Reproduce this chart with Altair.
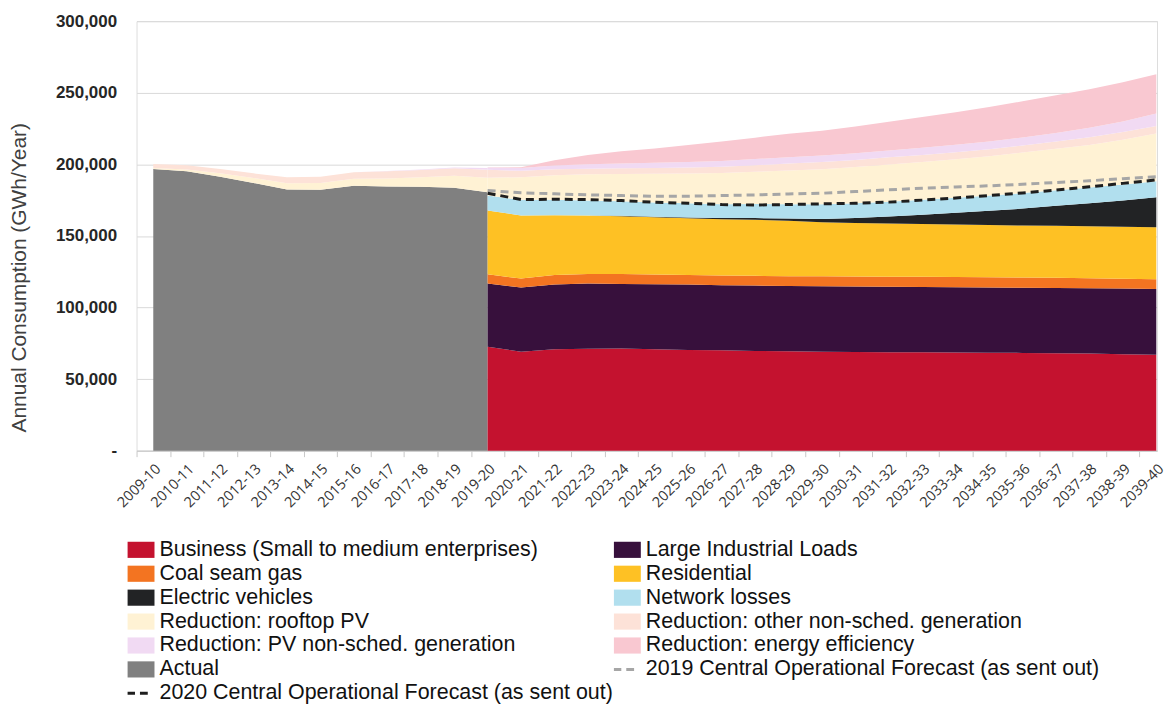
import altair as alt
import pandas as pd

# ---------------- data ----------------
years = ["2009-10", "2010-11", "2011-12", "2012-13", "2013-14", "2014-15",
         "2015-16", "2016-17", "2017-18", "2018-19", "2019-20", "2020-21",
         "2021-22", "2022-23", "2023-24", "2024-25", "2025-26", "2026-27",
         "2027-28", "2028-29", "2029-30", "2030-31", "2031-32", "2032-33",
         "2033-34", "2034-35", "2035-36", "2036-37", "2037-38", "2038-39",
         "2039-40"]
hist_years = years[:11]          # 2009-10 .. 2019-20
fc_years = years[10:]            # 2019-20 .. 2039-40

S_BUS = "Business (Small to medium enterprises)"
S_LIL = "Large Industrial Loads"
S_CSG = "Coal seam gas"
S_RES = "Residential"
S_EV = "Electric vehicles"
S_NL = "Network losses"
S_RPV = "Reduction: rooftop PV"
S_ONS = "Reduction: other non-sched. generation"
S_PVN = "Reduction: PV non-sched. generation"
S_EE = "Reduction: energy efficiency"
S_ACT = "Actual"
S_F19 = "2019 Central Operational Forecast (as sent out)"
S_F20 = "2020 Central Operational Forecast (as sent out)"

# historical stack (GWh)
actual = [196800, 195100, 191400, 187000, 182400, 182200, 185000, 184500, 184300, 183600, 180500]
hist_rooftop = [600, 1300, 2300, 3500, 4400, 4800, 4900, 5600, 6600, 8400, 10200]
hist_other = [2900, 2900, 3000, 3200, 4200, 4400, 4500, 5000, 5200, 5300, 5500]
hist_pvns = [0, 0, 0, 0, 0, 0, 0, 200, 300, 500, 1300]

# forecast stack (GWh), 2019-20 .. 2039-40
business = [72600, 69100, 70800, 71200, 71400, 70800, 70300, 70100, 69600, 69400, 69100,
            68900, 68800, 68700, 68600, 68400, 68300, 68100, 67800, 67300, 67000]
large_ind = [44100, 44800, 45200, 45500, 45100, 45400, 45700, 45500, 45700, 45700, 45800,
             45700, 45700, 45600, 45600, 45500, 45500, 45600, 45700, 45900, 46000]
csg = [6500, 6300, 6700, 6700, 6900, 6800, 6700, 6700, 6800, 6700, 6900,
       7000, 7000, 7100, 7100, 7200, 7100, 7000, 6900, 6800, 6700]
residential = [44600, 44100, 41800, 40900, 40400, 40100, 39700, 39400, 39200, 38800, 37700,
               37400, 37100, 36900, 36700, 36500, 36400, 36400, 36400, 36400, 36400]
ev = [0, 0, 0, 0, 200, 350, 550, 800, 1150, 1600, 2400,
      3500, 4900, 6400, 8100, 9900, 11800, 13900, 16100, 18400, 20900]
net_losses = [10400, 10900, 10700, 10400, 10200, 9900, 9800, 9700, 9800, 10000, 10200,
              10300, 10400, 10500, 10600, 10700, 10800, 10900, 11000, 11100, 11200]
fc_rooftop = [12500, 15800, 17200, 18300, 19100, 20000, 20800, 21700, 22500, 23500, 24500,
              25300, 26000, 26400, 26900, 27500, 28300, 28900, 29600, 31200, 33400]
fc_other = [5500, 4500, 4200, 4000, 4000, 4100, 4200, 4400, 4600, 4800, 5000,
            5000, 5000, 5000, 4900, 4900, 5000, 5200, 5500, 5400, 5100]
fc_pvns = [1500, 2000, 2500, 3000, 3300, 3600, 3900, 4100, 4300, 4500, 4600,
           4600, 4700, 4900, 5100, 5300, 5500, 5900, 6500, 7500, 8800]
energy_eff = [300, 500, 3700, 6500, 8500, 10000, 11800, 13500, 15000, 16300, 17200,
              18700, 20200, 21500, 22800, 24100, 25300, 26300, 27000, 27300, 27500]

# dashed forecast lines
forecast_2019 = [181700, 180100, 179400, 178700, 178200, 177700, 177700, 178200, 178600, 179300, 179800,
                 181000, 182200, 183300, 184200, 185000, 186100, 187300, 188500, 190000, 191400]
forecast_2020 = [179800, 175400, 175600, 175400, 174700, 173500, 172800, 171900, 171600, 171900, 172400,
                 172800, 173600, 175000, 176500, 178200, 180000, 182000, 184300, 186700, 189100]

# legend / colour order
legend_order = [S_BUS, S_LIL, S_CSG, S_RES, S_EV, S_NL, S_RPV, S_ONS, S_PVN, S_EE, S_ACT, S_F19, S_F20]
legend_colors = ["#C4122F", "#37103C", "#F37421", "#FEC124", "#222325", "#B1DFEE",
                 "#FFF2D4", "#FDE2D8", "#F1DAF3", "#F9C8D1", "#808080", "#A6A6A6", "#1E1E1E"]
RECT = "M-1,-0.6H1V0.6H-1Z"
DASH = "M-1,-0.11H-0.45V0.11H-1Z M-0.08,-0.11H0.5V0.11H-0.08Z"
legend_shapes = [RECT] * 11 + [DASH, DASH]

# ---------------- tables ----------------
hist_stack = [(S_ACT, actual), (S_RPV, hist_rooftop), (S_ONS, hist_other), (S_PVN, hist_pvns)]
fc_stack = [(S_BUS, business), (S_LIL, large_ind), (S_CSG, csg), (S_RES, residential),
            (S_EV, ev), (S_NL, net_losses), (S_RPV, fc_rooftop), (S_ONS, fc_other),
            (S_PVN, fc_pvns), (S_EE, energy_eff)]

def long_table(yrs, stack):
    rows = []
    for k, (name, vals) in enumerate(stack):
        for yr, v in zip(yrs, vals):
            rows.append({"idx": years.index(yr), "year": yr, "series": name, "value": v, "ord": k})
    return pd.DataFrame(rows)

hist_df = long_table(hist_years, hist_stack)
fc_df = long_table(fc_years, fc_stack)
line_df = long_table(fc_years, [(S_F19, forecast_2019), (S_F20, forecast_2020)])
legend_df = pd.DataFrame({"idx": [0] * len(legend_order), "value": [0] * len(legend_order),
                          "series": legend_order})

# ---------------- scales / axes ----------------
W, H = 1024, 431
STEP = 33.55
x_domain = [-0.5, (W - STEP / 2) / STEP]
label_expr = "[" + ",".join("'%s'" % y for y in years) + "][datum.value]"

x_axis = alt.Axis(values=list(range(len(years))), labelExpr=label_expr, title=None,
                  labelAngle=-45, labelFont="Open Sans", labelFontSize=14.5, labelColor="#333333",
                  tickOffset=-STEP / 2, labelOffset=STEP / 2, tickSize=6, tickColor="#C8C8C8",
                  domainColor="#C8C8C8", grid=False, labelPadding=5, labelOverlap=False)
x_enc = alt.X("idx:Q", scale=alt.Scale(domain=x_domain, nice=False, zero=False), axis=x_axis)

y_axis = alt.Axis(values=[0, 50000, 100000, 150000, 200000, 250000, 300000],
                  labelExpr="datum.value == 0 ? '-\u00a0\u00a0' : format(datum.value, ',')",
                  title="Annual Consumption (GWh/Year)", titleFont="Liberation Sans",
                  titleFontSize=21, titleFontWeight="normal", titleColor="#404040",
                  titlePadding=26, titleY=257, labelFont="Liberation Sans", labelFontSize=17,
                  labelFontWeight="bold", labelColor="#262626", labelPadding=20,
                  domain=False, ticks=False, grid=True, gridColor="#D9D9D9")
y_scale = alt.Scale(domain=[0, 300000], nice=False)

color_scale = alt.Scale(domain=legend_order, range=legend_colors)
shape_scale = alt.Scale(domain=legend_order, range=legend_shapes)

legend_kw = dict(title=None, orient="none", legendX=-9, legendY=517, columns=2,
                 direction="horizontal",
                 symbolSize=729, symbolStrokeWidth=0, symbolOpacity=1,
                 labelFont="Liberation Sans", labelFontSize=21.5, labelColor="#111111",
                 labelOffset=5, labelLimit=800, rowPadding=0, columnPadding=0, padding=0)

# legend carrier (no visible marks): colour + shape on the same field -> one merged legend
legend_layer = alt.Chart(legend_df).mark_point(filled=True, opacity=1).encode(
    x=x_enc,
    y=alt.Y("value:Q", stack=None, scale=y_scale, axis=y_axis),
    color=alt.Color("series:N", scale=color_scale, legend=alt.Legend(**legend_kw)),
    shape=alt.Shape("series:N", scale=shape_scale, legend=alt.Legend(**legend_kw)),
).transform_filter("datum.value < 0")

hist_area = alt.Chart(hist_df).mark_area(opacity=1).encode(
    x=x_enc,
    y=alt.Y("value:Q", stack="zero", scale=y_scale, axis=y_axis),
    color=alt.Color("series:N", scale=color_scale, legend=None),
    order=alt.Order("ord:Q", sort="ascending"),
)
fc_area = alt.Chart(fc_df).mark_area(opacity=1).encode(
    x=x_enc,
    y=alt.Y("value:Q", stack="zero", scale=y_scale, axis=y_axis),
    color=alt.Color("series:N", scale=color_scale, legend=None),
    order=alt.Order("ord:Q", sort="ascending"),
)
lines = alt.Chart(line_df).mark_line(strokeWidth=3, strokeDash=[8, 5]).encode(
    x=x_enc,
    y=alt.Y("value:Q", stack=None, scale=y_scale, axis=y_axis),
    color=alt.Color("series:N", scale=color_scale, legend=None),
    detail="series:N",
)

chart = alt.layer(legend_layer, hist_area, fc_area, lines).properties(
    width=W, height=H,
    padding={"left": 0, "top": 3, "right": 0, "bottom": 0},
).configure_view(stroke=None).configure(background="white")

chart.save("out.html", embed_options={"renderer": "svg", "actions": False})
